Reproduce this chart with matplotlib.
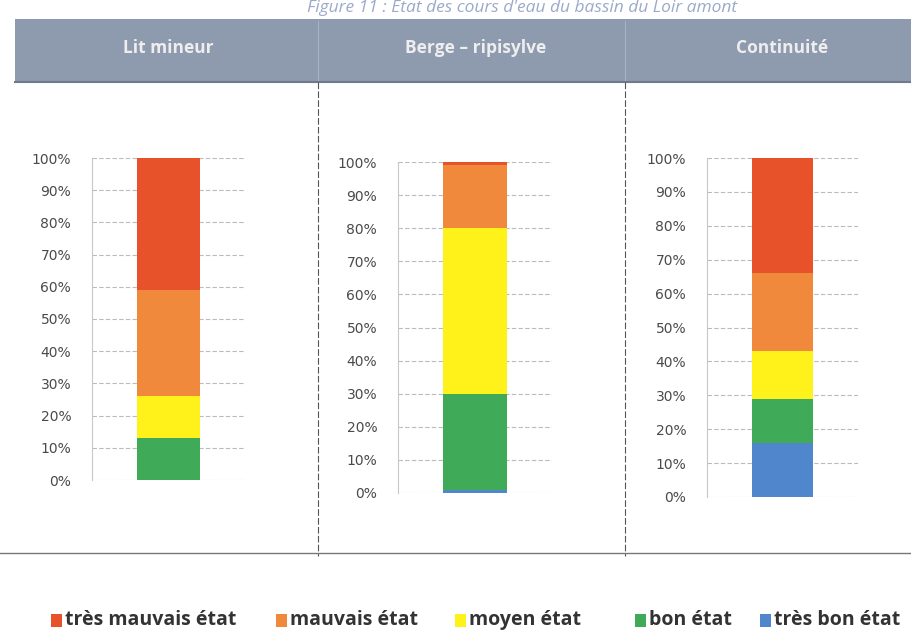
import matplotlib
matplotlib.use("Agg")
import matplotlib.pyplot as plt
from matplotlib.patches import Rectangle
from matplotlib.lines import Line2D

# Share of river length in each condition class (%), per assessed compartment
panels = ["Lit mineur", "Berge – ripisylve", "Continuité"]
classes = ["très bon état", "bon état", "moyen état", "mauvais état", "très mauvais état"]
tres_bon = [0, 1, 16]
bon = [13, 29, 13]
moyen = [13, 50, 14]
mauvais = [33, 19, 23]
tres_mauvais = [41, 1, 34]
tick_labels = ["0%", "10%", "20%", "30%", "40%", "50%", "60%", "70%", "80%", "90%", "100%"]

colors = {
    "très bon état": "#4F86CC",
    "bon état": "#3FAA57",
    "moyen état": "#FFF21A",
    "mauvais état": "#F1893C",
    "très mauvais état": "#E8522B",
}
series = [tres_bon, bon, moyen, mauvais, tres_mauvais]

W, H = 911, 632
fig = plt.figure(figsize=(W / 100, H / 100), dpi=100)
fig.patch.set_facecolor("white")

def fx(px):
    return px / W

def fy(py):
    return 1 - py / H

# Title
fig.text(fx(522), fy(0), "Figure 11 : Etat des cours d'eau du bassin du Loir amont",
         ha="center", va="top", fontsize=12.5, style="italic",
         color="#9AAAC8", family="Open Sans")

# Header band
fig.patches.append(Rectangle((fx(15), fy(82)), fx(896), (82 - 19) / H,
                             transform=fig.transFigure, facecolor="#8E9AAD",
                             edgecolor="none", zorder=0))
fig.add_artist(Line2D([fx(15), 1], [fy(82), fy(82)], color="#6F7A8A", lw=1.5))
for xd in (318, 625):
    fig.add_artist(Line2D([fx(xd), fx(xd)], [fy(21), fy(80)], color="#A8B2C0", lw=0.8))
    fig.add_artist(Line2D([fx(xd), fx(xd)], [fy(82), fy(556)], color="#555555", lw=0.8,
                          linestyle=(0, (6, 2))))
header_x = [168, 476, 782]
for name, hx in zip(panels, header_x):
    fig.text(fx(hx), fy(48), name, ha="center", va="center", fontsize=12.5,
             fontweight="bold", color="#EEEEEE", family="Open Sans")

# Bottom rule
fig.add_artist(Line2D([0, 1], [fy(553), fy(553)], color="#777777", lw=1.0))

# Panel geometry in pixels: (axes left, axes right, y of 0%, y of 100%)
geom = [(92, 245, 480, 158), (398, 552, 493, 162), (707, 858, 497, 158)]

for i, (x0, x1, y0, y100) in enumerate(geom):
    ax = fig.add_axes([fx(x0), fy(y0), (x1 - x0) / W, (y0 - y100) / H])
    ax.set_xlim(0, 1)
    ax.set_ylim(0, 100)
    bottom = 0
    for cls, vals in zip(classes, series):
        v = vals[i]
        if v > 0:
            ax.bar(0.5, v, width=0.41, bottom=bottom, color=colors[cls],
                   edgecolor="none", zorder=3)
        bottom += v
    ax.set_yticks(range(0, 101, 10))
    ax.set_yticklabels(tick_labels)
    ax.tick_params(axis="y", length=0, pad=15, labelsize=10, labelcolor="#4A4A4A")
    ax.set_xticks([])
    ax.grid(axis="y", color="#BBBBBB", lw=0.8, linestyle=(0, (4, 2)), zorder=0)
    for s in ("top", "right", "bottom"):
        ax.spines[s].set_visible(False)
    ax.spines["left"].set_color("#C8C8C8")
    ax.spines["left"].set_linewidth(0.8)
    ax.set_facecolor("none")

# Legend: coloured square followed by class name
legend_order = list(reversed(classes))
square_x = [51, 276, 455, 635, 760]
for cls, sx in zip(legend_order, square_x):
    fig.patches.append(Rectangle((fx(sx), fy(627)), 11 / W, 13 / H,
                                 transform=fig.transFigure,
                                 facecolor=colors[cls], edgecolor="none"))
    fig.text(fx(sx + 14), fy(620), cls, ha="left", va="center", fontsize=14,
             fontweight="bold", color="#333333", family="Open Sans")

fig.savefig("out.png", dpi=100, facecolor="white")
